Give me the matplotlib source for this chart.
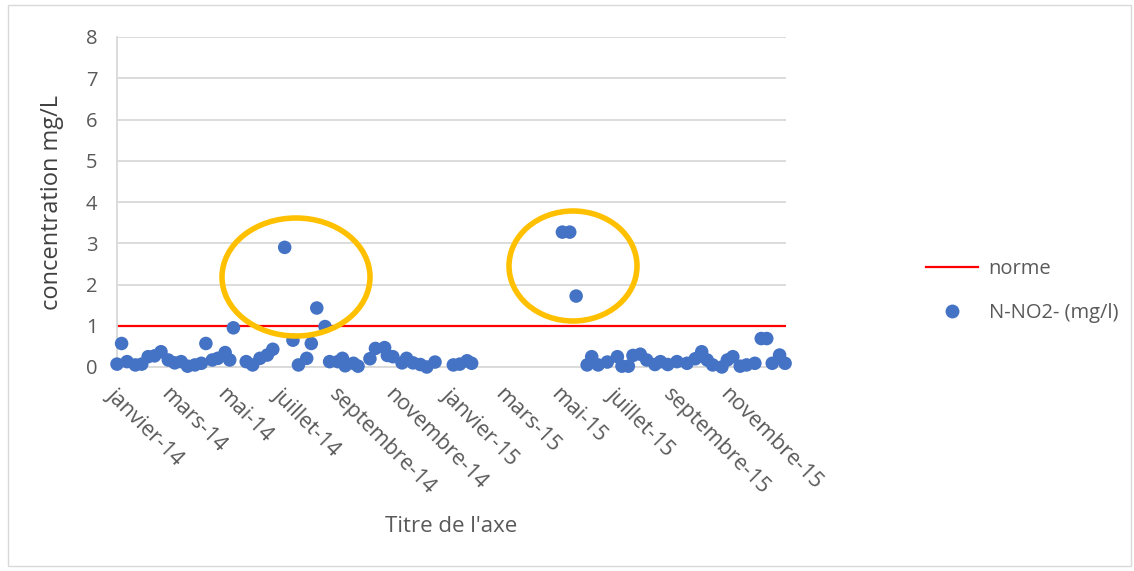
import matplotlib
matplotlib.use("Agg")
import matplotlib.pyplot as plt
import matplotlib.dates as mdates
from matplotlib.patches import Ellipse, Rectangle
from matplotlib.lines import Line2D
import numpy as np

# N-NO2- concentration samples (mg/l)
sample_dates = [
    "2014-01-01", "2014-01-06", "2014-01-12", "2014-01-21", "2014-01-28",
    "2014-02-04", "2014-02-11", "2014-02-18", "2014-02-26", "2014-03-05",
    "2014-03-12", "2014-03-19", "2014-03-27", "2014-04-03", "2014-04-08",
    "2014-04-15", "2014-04-21", "2014-04-29", "2014-05-04", "2014-05-08",
    "2014-05-22", "2014-05-29", "2014-06-06", "2014-06-14", "2014-06-20",
    "2014-07-03", "2014-07-12", "2014-07-18", "2014-07-27", "2014-08-01",
    "2014-08-07", "2014-08-16", "2014-08-21", "2014-08-30", "2014-09-04",
    "2014-09-07", "2014-09-16", "2014-09-21", "2014-10-04", "2014-10-10",
    "2014-10-20", "2014-10-23", "2014-10-29", "2014-11-08", "2014-11-13",
    "2014-11-20", "2014-11-28", "2014-12-05", "2014-12-14", "2015-01-03",
    "2015-01-10", "2015-01-18", "2015-01-23",
    "2015-05-02", "2015-05-10", "2015-05-17", "2015-05-29", "2015-06-03",
    "2015-06-10", "2015-06-20", "2015-07-01", "2015-07-06", "2015-07-13",
    "2015-07-18", "2015-07-26", "2015-08-02", "2015-08-11", "2015-08-17",
    "2015-08-25", "2015-09-04", "2015-09-15", "2015-09-24", "2015-10-01",
    "2015-10-07", "2015-10-13", "2015-10-23", "2015-10-29", "2015-11-04",
    "2015-11-12", "2015-11-19", "2015-11-28", "2015-12-05", "2015-12-11",
    "2015-12-17", "2015-12-25", "2015-12-31",
]
no2_values = [
    0.07, 0.57, 0.13, 0.05, 0.07,
    0.25, 0.27, 0.37, 0.17, 0.10,
    0.13, 0.02, 0.05, 0.09, 0.57,
    0.17, 0.21, 0.35, 0.17, 0.95,
    0.13, 0.05, 0.21, 0.29, 0.43,
    2.90, 0.65, 0.05, 0.21, 0.57,
    1.43, 0.98, 0.13, 0.13, 0.21,
    0.03, 0.09, 0.02, 0.20, 0.45,
    0.47, 0.28, 0.25, 0.10, 0.21,
    0.10, 0.06, 0.00, 0.12, 0.05,
    0.07, 0.15, 0.09,
    3.27, 3.27, 1.72, 0.05, 0.25,
    0.05, 0.12, 0.25, 0.02, 0.02,
    0.28, 0.31, 0.17, 0.06, 0.13,
    0.06, 0.13, 0.09, 0.20, 0.37,
    0.17, 0.05, 0.00, 0.17, 0.25,
    0.02, 0.05, 0.09, 0.69, 0.69,
    0.09, 0.29, 0.09,
]
norme_value = 1.0

period_start = "2014-01-01"
period_end = "2016-01-01"

tick_dates = [
    "2014-01-01", "2014-03-01", "2014-05-01", "2014-07-01", "2014-09-01",
    "2014-11-01", "2015-01-01", "2015-03-01", "2015-05-01", "2015-07-01",
    "2015-09-01", "2015-11-01",
]
tick_labels = [
    "janvier-14", "mars-14", "mai-14", "juillet-14", "septembre-14",
    "novembre-14", "janvier-15", "mars-15", "mai-15", "juillet-15",
    "septembre-15", "novembre-15",
]
y_ticks = [0, 1, 2, 3, 4, 5, 6, 7, 8]

plt.rcParams["font.family"] = ["Open Sans", "DejaVu Sans"]

W, H = 1134, 571
fig = plt.figure(figsize=(W / 100, H / 100), dpi=100)
fig.patch.set_facecolor("white")

# chart-area frame
fig.add_artist(Rectangle((8 / W, 1 - 566 / H), (1131 - 8) / W, (566 - 5) / H,
                         transform=fig.transFigure, fill=False,
                         edgecolor="#D9D9D9", linewidth=1.0))

ax = fig.add_axes([117 / W, 1 - 367 / H, (786 - 117) / W, (367 - 37) / H])

x = mdates.datestr2num(sample_dates)
x0, x1 = mdates.datestr2num([period_start, period_end])

ax.set_xlim(x0, x1)
ax.set_ylim(0, 8)

grey_text = "#595959"
ax.set_yticks(y_ticks)
ax.set_yticklabels([str(v) for v in y_ticks])
ax.yaxis.grid(True, color="#D9D9D9", linewidth=1.3)
ax.set_axisbelow(True)

for side in ("top", "right"):
    ax.spines[side].set_visible(False)
ax.spines["left"].set_color("#D9D9D9")
ax.spines["left"].set_linewidth(1.3)
ax.spines["bottom"].set_color("#D9D9D9")
ax.spines["bottom"].set_linewidth(1.3)

ax.tick_params(axis="both", length=0, labelsize=14.5, labelcolor=grey_text)
ax.tick_params(axis="y", pad=14)
ax.tick_params(axis="x", pad=12, labelsize=15.5)

ax.set_xticks(mdates.datestr2num(tick_dates))
ax.set_xticklabels(tick_labels, rotation=-45, ha="left", va="top",
                   rotation_mode="anchor")

# reference limit
ax.plot([x0, x1], [norme_value, norme_value], color="#FF0000", linewidth=1.6,
        zorder=2)

ax.scatter(x, no2_values, s=95, color="#4472C4", edgecolors="none",
           zorder=3, clip_on=False)

ax.set_ylabel("concentration mg/L", fontsize=17, color="#404040", labelpad=16)
ax.set_xlabel("Titre de l'axe", fontsize=16, color=grey_text, labelpad=13)

# highlight rings around exceedances
for cx, cy, w, h in [(296, 277, 148, 118), (573, 266, 128, 110)]:
    fig.add_artist(Ellipse((cx / W, 1 - cy / H), w / W, h / H,
                           transform=fig.transFigure, fill=False,
                           edgecolor="#FFC000", linewidth=4.0))

handles = [
    Line2D([], [], color="#FF0000", linewidth=1.6),
    Line2D([], [], linestyle="none", marker="o", markersize=10,
           markerfacecolor="#4472C4", markeredgecolor="none"),
]
fig.legend(handles, ["norme", "N-NO2- (mg/l)"], loc="center left",
           bbox_to_anchor=(908 / W, 1 - 291 / H), frameon=False,
           fontsize=14.5, labelcolor=grey_text, handlelength=2.6,
           labelspacing=1.2, handletextpad=0.5)

fig.savefig("out.png", dpi=100, facecolor="white")
